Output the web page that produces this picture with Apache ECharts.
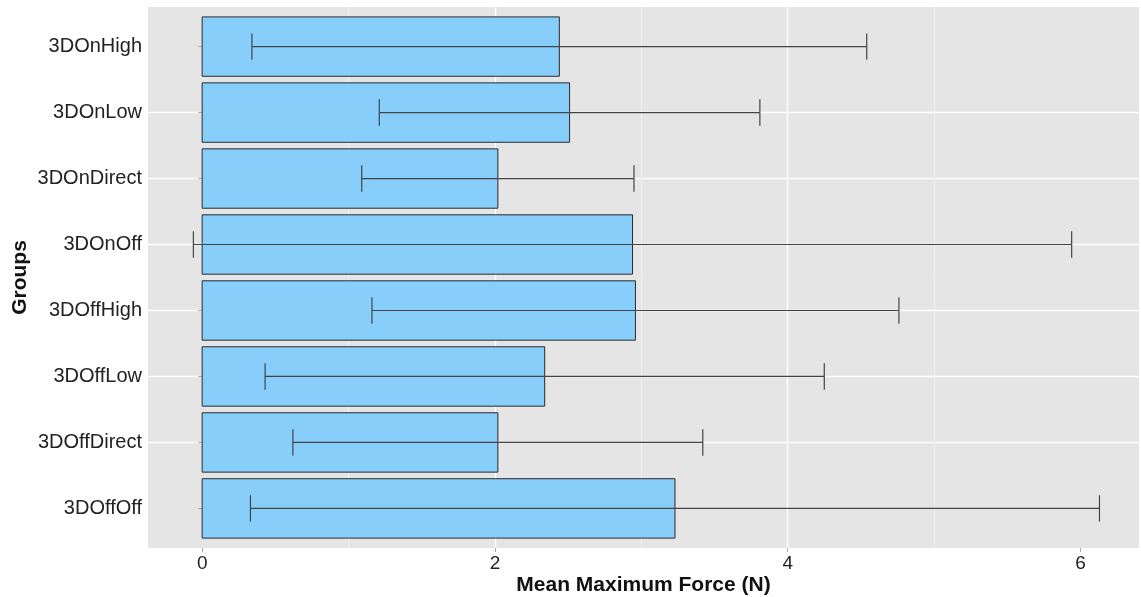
<!DOCTYPE html>
<html>
<head>
<meta charset="utf-8">
<script src="https://cdn.jsdelivr.net/npm/echarts@6/dist/echarts.min.js"></script>
<style>
  html, body { margin: 0; padding: 0; background: #ffffff; }
  #chart { width: 1141px; height: 597px; }
</style>
</head>
<body>
<div id="chart"></div>
<script>
// Groups listed top to bottom as they appear on the y axis
const categories = ['3DOnHigh', '3DOnLow', '3DOnDirect', '3DOnOff',
                    '3DOffHigh', '3DOffLow', '3DOffDirect', '3DOffOff'];
// Mean maximum force (N) per group
const meanForce = [2.44, 2.51, 2.02, 2.94, 2.96, 2.34, 2.02, 3.23];
// Standard deviation drawn as the error bar half-width
const sdForce = [2.10, 1.30, 0.93, 3.00, 1.80, 1.91, 1.40, 2.90];
// Tick values shown on the x axis
const xTicks = [0, 2, 4, 6];
const xMinorLines = [1, 3, 5];

const FONT = '"Liberation Sans", Arial, sans-serif';
const BAR_HALF = 0.45;   // half of the bar thickness, in category units
const CAP_HALF = 0.2;    // half of the error-bar cap length

const rows = categories.map((c, i) => [meanForce[i], i + 1, sdForce[i]]);
const yPositions = categories.map((c, i) => i + 1);

const chart = echarts.init(document.getElementById('chart'), null, { renderer: 'canvas' });

chart.setOption({
  animation: false,
  backgroundColor: '#ffffff',
  grid: {
    left: 148, right: 2, top: 7, bottom: 49,
    containLabel: false,
    outerBoundsMode: 'none',
    show: true, backgroundColor: '#E5E5E5', borderWidth: 0
  },
  xAxis: {
    type: 'value',
    min: -0.37, max: 6.4,
    splitNumber: 3,
    name: 'Mean Maximum Force (N)',
    nameLocation: 'middle',
    nameGap: 27,
    nameMoveOverlap: false,
    nameTextStyle: { fontFamily: FONT, fontSize: 21, fontWeight: 'bold', color: '#111' },
    axisLine: { show: false },
    axisTick: { show: true, length: 4, lineStyle: { color: '#aaaaaa' }, customValues: xTicks },
    axisLabel: {
      fontFamily: FONT, fontSize: 19, color: '#222', margin: 6,
      customValues: xTicks,
      formatter: v => String(v)
    },
    splitLine: { show: true, showMinLine: false, showMaxLine: false,
                 lineStyle: { color: '#ffffff', width: 1.4 } }
  },
  yAxis: {
    type: 'value',
    inverse: true,
    min: 0.4, max: 8.6,
    splitNumber: 8,
    name: 'Groups',
    nameLocation: 'middle',
    nameGap: 117,
    nameMoveOverlap: false,
    nameRotate: 90,
    nameTextStyle: { fontFamily: FONT, fontSize: 21, fontWeight: 'bold', color: '#111' },
    axisLine: { show: false },
    axisTick: { show: true, length: 4, lineStyle: { color: '#aaaaaa' }, customValues: yPositions },
    axisLabel: {
      fontFamily: FONT, fontSize: 20, color: '#222', margin: 6,
      customValues: yPositions,
      formatter: v => categories[Math.round(v) - 1] || ''
    },
    splitLine: { show: true, showMinLine: false, showMaxLine: false,
                 lineStyle: { color: '#ffffff', width: 1.4 } }
  },
  series: [{
    type: 'custom',
    z: 3,
    data: rows,
    encode: { x: 0, y: 1 },
    renderItem: (params, api) => {
      const mean = api.value(0), pos = api.value(1), sd = api.value(2);
      const a = api.coord([0, pos - BAR_HALF]);
      const b = api.coord([mean, pos + BAR_HALF]);
      const lo = api.coord([mean - sd, pos]);
      const hi = api.coord([mean + sd, pos]);
      const capA = api.coord([0, pos - CAP_HALF])[1];
      const capB = api.coord([0, pos + CAP_HALF])[1];
      const errStyle = { stroke: '#444444', lineWidth: 1.2 };
      return {
        type: 'group',
        children: [
          {
            type: 'rect',
            shape: {
              x: Math.min(a[0], b[0]), y: Math.min(a[1], b[1]),
              width: Math.abs(b[0] - a[0]), height: Math.abs(b[1] - a[1])
            },
            style: { fill: '#87CEFA', stroke: '#2b2b2b', lineWidth: 1 }
          },
          { type: 'line', shape: { x1: lo[0], y1: lo[1], x2: hi[0], y2: hi[1] }, style: errStyle },
          { type: 'line', shape: { x1: lo[0], y1: capA, x2: lo[0], y2: capB }, style: errStyle },
          { type: 'line', shape: { x1: hi[0], y1: capA, x2: hi[0], y2: capB }, style: errStyle }
        ]
      };
    },
    markLine: {
      silent: true,
      z: 1,
      symbol: ['none', 'none'],
      label: { show: false },
      lineStyle: { color: '#F2F2F2', width: 0.8, type: 'solid' },
      data: xMinorLines.map(v => ({ xAxis: v }))
    }
  }]
});
</script>
</body>
</html>
